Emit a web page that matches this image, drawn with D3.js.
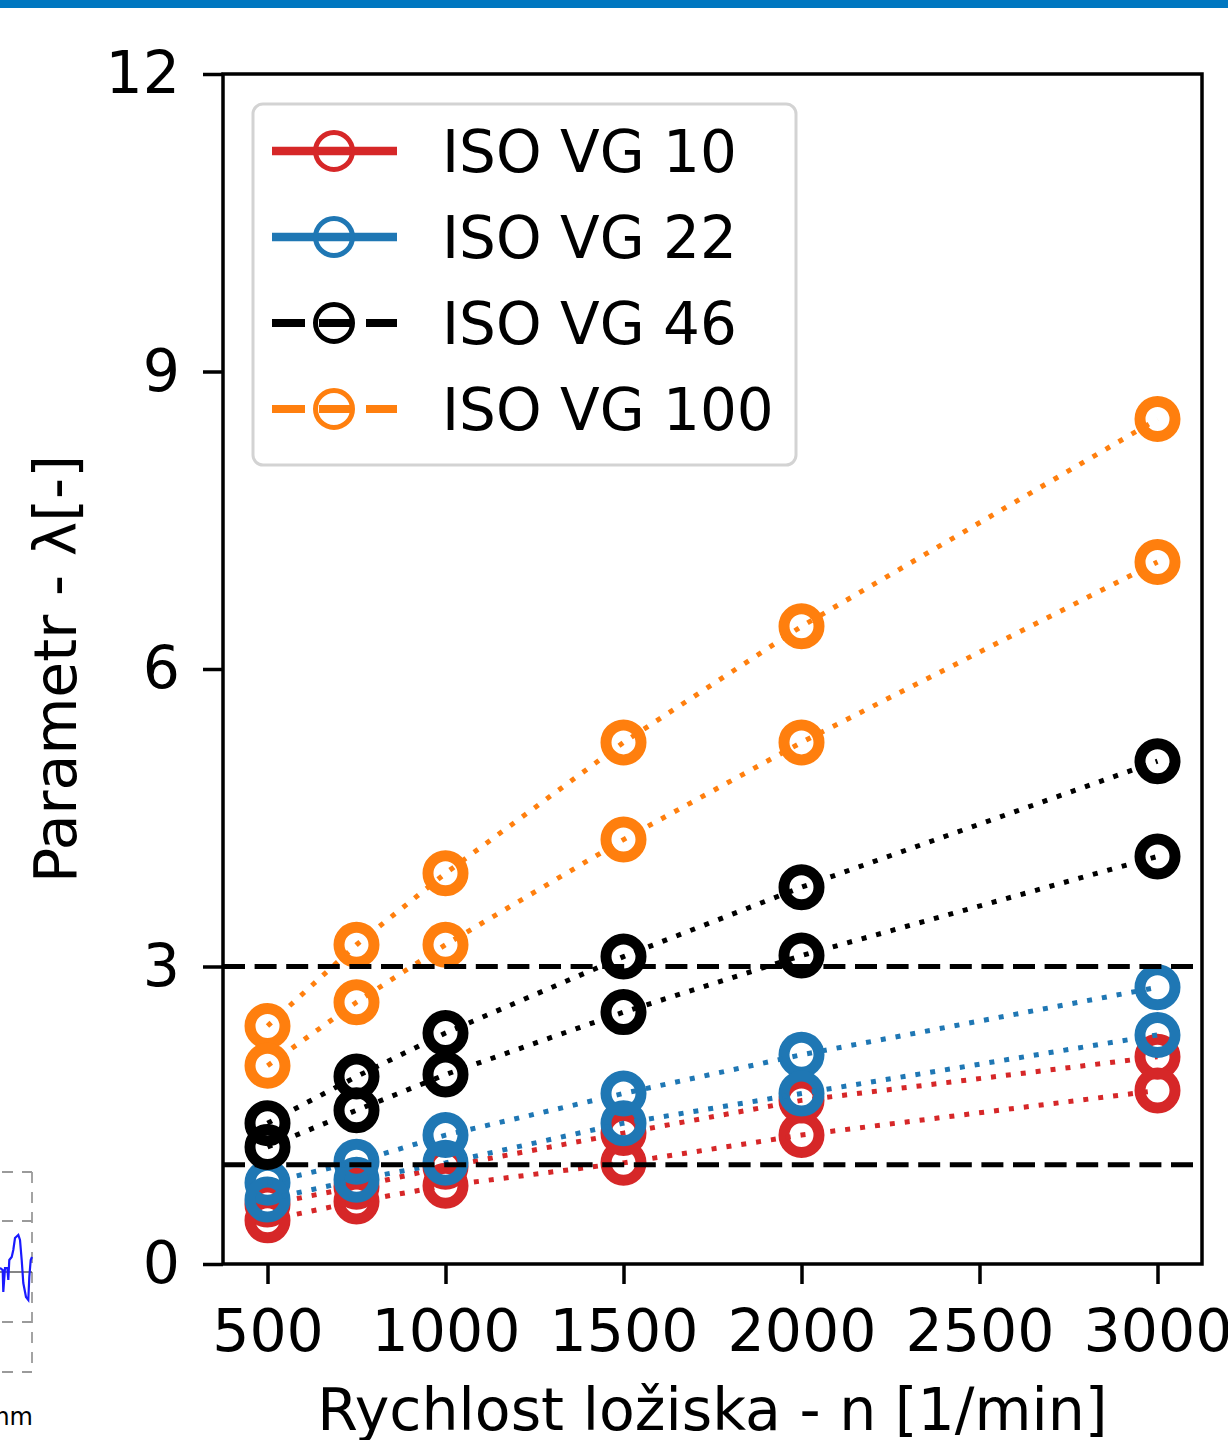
<!DOCTYPE html>
<html><head><meta charset="utf-8">
<script src="https://cdn.jsdelivr.net/npm/d3@7"></script>
<style>
body{margin:0;background:#fff}
svg{display:block}
text{font-family:"DejaVu Sans",sans-serif;fill:#000}
</style>
</head><body>
<svg id="c" width="1228" height="1440"></svg>
<script>
// ---------------- data ----------------
const speeds = [500, 750, 1000, 1500, 2000, 3000];

const vg10_high  = [0.60, 0.78, 0.98, 1.32, 1.65, 2.09];
const vg10_low   = [0.44, 0.63, 0.79, 1.02, 1.30, 1.75];
const vg22_high  = [0.82, 1.03, 1.30, 1.72, 2.11, 2.79];
const vg22_low   = [0.65, 0.85, 1.02, 1.42, 1.72, 2.31];
const vg46_high  = [1.42, 1.89, 2.33, 3.10, 3.80, 5.07];
const vg46_low   = [1.18, 1.55, 1.91, 2.54, 3.11, 4.11];
const vg100_high = [2.40, 3.22, 3.94, 5.26, 6.43, 8.52];
const vg100_low  = [2.00, 2.64, 3.22, 4.28, 5.26, 7.08];

const legendLabels = ["ISO VG 10", "ISO VG 22", "ISO VG 46", "ISO VG 100"];
const seriesColors = ["#d62728", "#1f77b4", "#000000", "#ff7f0e"];
const legendDashed = [false, false, true, true];

const xTicks = [500, 1000, 1500, 2000, 2500, 3000];
const yTicks = [0, 3, 6, 9, 12];
const refLines = [1, 3];

const xLabel = "Rychlost ložiska - n [1/min]";
const yLabel = "Parametr - λ[-]";

// fragment of neighbouring figure (cropped at left edge)
const sideSignalX = [0, 2.7, 3.3, 5, 7.3, 8.3, 9.3, 11.7, 13.3, 15, 18.3, 20, 21.7, 23.3, 26, 28.3, 29.3, 30.7, 32];
const sideSignalY = [1268, 1270, 1292, 1268, 1268, 1280, 1260, 1257, 1250, 1238, 1235, 1240, 1260, 1283, 1297, 1300, 1277, 1260, 1257];

// ---------------- drawing ----------------
const svg = d3.select("#c");
const W = 1228, H = 1440;
const plot = {left: 223, right: 1202, top: 74, bottom: 1264};

const x = d3.scaleLinear().domain([375, 3125]).range([plot.left, plot.right]);
const y = d3.scaleLinear().domain([0, 12]).range([plot.bottom, plot.top]);

// top blue strip
svg.append("rect").attr("x", 0).attr("y", 0).attr("width", W).attr("height", 8).attr("fill", "#0077c0");

// side fragment
const side = svg.append("g");
const sx = d3.scaleLinear().domain([0, 32]).range([0, 32]);
[1172, 1221, 1322, 1372].forEach(yy => {
  side.append("line").attr("x1", 2).attr("x2", 32).attr("y1", yy).attr("y2", yy)
    .attr("stroke", "#9a9a9a").attr("stroke-width", 1.8).attr("stroke-dasharray", "11,9");
});
side.append("line").attr("x1", 32).attr("x2", 32).attr("y1", 1172).attr("y2", 1372)
  .attr("stroke", "#9a9a9a").attr("stroke-width", 1.8).attr("stroke-dasharray", "11,9");
side.append("line").attr("x1", 0).attr("x2", 32).attr("y1", 1272).attr("y2", 1272)
  .attr("stroke", "#333").attr("stroke-width", 1.2);
side.append("path")
  .attr("d", d3.line().x((d, i) => sx(sideSignalX[i])).y(d => d)(sideSignalY))
  .attr("fill", "none").attr("stroke", "#1a1aff").attr("stroke-width", 2.2);
side.append("text").attr("x", 33).attr("y", 1425).attr("text-anchor", "end")
  .style("font-size", "24px").text("mm");

// axes
const fs = 58.5;
const xAxis = d3.axisBottom(x).tickValues(xTicks).tickSize(20).tickPadding(25).tickFormat(d3.format("d"));
const yAxis = d3.axisLeft(y).tickValues(yTicks).tickSize(20).tickPadding(23).tickFormat(d3.format("d"));

const gx = svg.append("g").attr("transform", `translate(0,${plot.bottom})`).call(xAxis);
const gy = svg.append("g").attr("transform", `translate(${plot.left},0)`).call(yAxis);
[gx, gy].forEach(g => {
  g.select(".domain").remove();
  g.selectAll(".tick line").attr("stroke", "#000").attr("stroke-width", 3.5);
  g.selectAll(".tick text").style("font-size", fs + "px").style("font-family", '"DejaVu Sans",sans-serif').attr("fill", "#000");
});

// series data
const seriesPairs = [
  [vg10_high, vg10_low],
  [vg22_high, vg22_low],
  [vg46_high, vg46_low],
  [vg100_high, vg100_low]
];

const line = d3.line().x((d, i) => x(speeds[i])).y(d => y(d));
const plotG = svg.append("g");

seriesPairs.forEach((pair, si) => {
  const col = seriesColors[si];
  pair.forEach(vals => {
    plotG.append("g").selectAll("circle").data(vals).join("circle")
      .attr("cx", (d, i) => x(speeds[i])).attr("cy", d => y(d)).attr("r", 17.5)
      .attr("fill", "none").attr("stroke", col).attr("stroke-width", 11);
  });
  pair.forEach(vals => {
    plotG.append("path").attr("d", line(vals))
      .attr("fill", "none").attr("stroke", col).attr("stroke-width", 5)
      .attr("stroke-dasharray", "5,10");
  });
});

// reference lines
refLines.forEach(v => {
  svg.append("line").attr("x1", plot.left).attr("x2", plot.right)
    .attr("y1", y(v)).attr("y2", y(v))
    .attr("stroke", "#000").attr("stroke-width", 5).attr("stroke-dasharray", "22,9.6");
});

// spines
svg.append("rect").attr("x", plot.left).attr("y", plot.top)
  .attr("width", plot.right - plot.left).attr("height", plot.bottom - plot.top)
  .attr("fill", "none").attr("stroke", "#000").attr("stroke-width", 3.5);

// legend
const lg = svg.append("g");
lg.append("rect").attr("x", 253).attr("y", 104).attr("width", 543).attr("height", 361).attr("rx", 10)
  .attr("fill", "#fff").attr("fill-opacity", 0.85).attr("stroke", "#d3d3d3").attr("stroke-width", 3);
legendLabels.forEach((lab, i) => {
  const cy = 151 + i * 86;
  const col = seriesColors[i];
  lg.append("line").attr("x1", 272).attr("x2", 397).attr("y1", cy).attr("y2", cy)
    .attr("stroke", col).attr("stroke-width", legendDashed[i] ? 8 : 8.7)
    .attr("stroke-dasharray", legendDashed[i] ? "33,14" : null);
  lg.append("circle").attr("cx", 334).attr("cy", cy).attr("r", 18.5)
    .attr("fill", "none").attr("stroke", col).attr("stroke-width", 5);
  lg.append("text").attr("x", 442).attr("y", cy).attr("dy", "0.36em")
    .style("font-size", "58px").text(lab);
});

// axis labels
svg.append("text").attr("x", (plot.left + plot.right) / 2).attr("y", 1430)
  .attr("text-anchor", "middle").style("font-size", fs + "px").text(xLabel);
svg.append("text").attr("transform", `translate(76,${(plot.top + plot.bottom) / 2}) rotate(-90)`)
  .attr("text-anchor", "middle").style("font-size", fs + "px").text(yLabel);
</script>
</body></html>
